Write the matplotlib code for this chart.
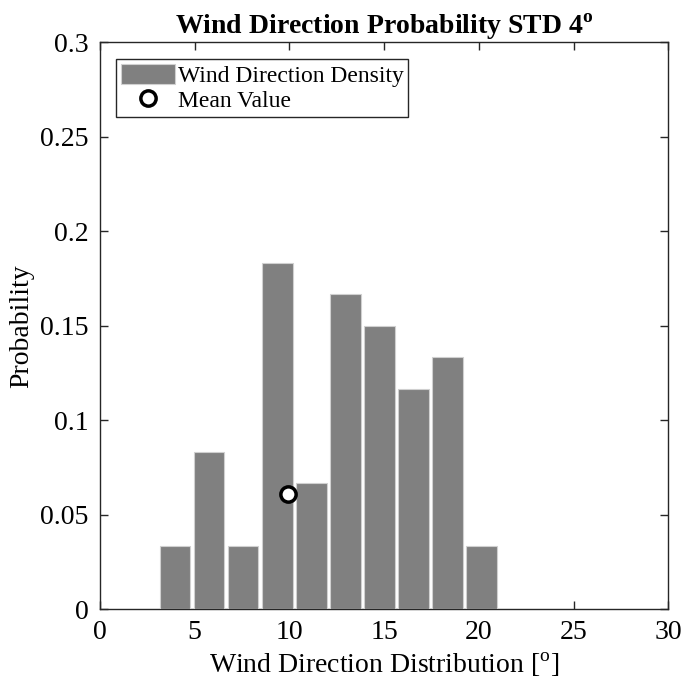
import matplotlib.pyplot as plt
from matplotlib.ticker import FuncFormatter

plt.rcParams['font.family'] = ['Liberation Serif', 'DejaVu Serif']
plt.rcParams['mathtext.fontset'] = 'custom'
plt.rcParams['mathtext.rm'] = 'Liberation Serif'
plt.rcParams['mathtext.bf'] = 'Liberation Serif:bold'

# histogram bin centres [deg] and probabilities
bin_centers = [3.96, 5.76, 7.56, 9.36, 11.16, 12.96, 14.76, 16.56, 18.36, 20.16]
probability = [0.0333, 0.0833, 0.0333, 0.1833, 0.0667, 0.1667, 0.15, 0.1167, 0.1333, 0.0333]
bin_width = 1.8

mean_x = [9.93]
mean_y = [0.061]

x_ticks = [0, 5, 10, 15, 20, 25, 30]
y_ticks = [0, 0.05, 0.1, 0.15, 0.2, 0.25, 0.3]

fig = plt.figure(figsize=(6.84, 6.93), dpi=100)
ax = fig.add_axes([0.146, 0.121, 0.831, 0.818])

bars = ax.bar(bin_centers, probability, width=bin_width * 0.9, color='#808080',
              edgecolor='#d0d0d0', linewidth=0.8, label='Wind Direction Density', zorder=2)
mean_line, = ax.plot(mean_x, mean_y, 'o', markersize=11, markerfacecolor='white',
                     markeredgecolor='black', markeredgewidth=2.5, label='Mean Value', zorder=3)

ax.set_xlim(0, 30)
ax.set_ylim(0, 0.3)
ax.set_xticks(x_ticks)
ax.set_yticks(y_ticks)
ax.yaxis.set_major_formatter(FuncFormatter(lambda v, p: '%g' % v))
ax.tick_params(direction='in', length=6, width=1, top=True, right=True,
               labelsize=20, color='#262626', pad=8)
for s in ax.spines.values():
    s.set_color('#262626')
    s.set_linewidth(1)
    s.set_zorder(1)

ax.set_xlabel(r'Wind Direction Distribution [$^\mathrm{o}$]', fontsize=20)
ax.set_ylabel('Probability', fontsize=20)
ax.set_title(r'Wind Direction Probability STD 4$^\mathbf{o}$', fontsize=20,
             fontweight='bold', pad=6)

leg = ax.legend([bars, mean_line], ['Wind Direction Density', 'Mean Value'],
                loc='upper left', fontsize=17, fancybox=False, framealpha=1,
                edgecolor='#262626', borderpad=0.2, handlelength=2.3, handleheight=0.95,
                handletextpad=0.1, labelspacing=0.1, borderaxespad=0.7)
leg.get_frame().set_linewidth(1)

fig.savefig('out.png', dpi=100)
